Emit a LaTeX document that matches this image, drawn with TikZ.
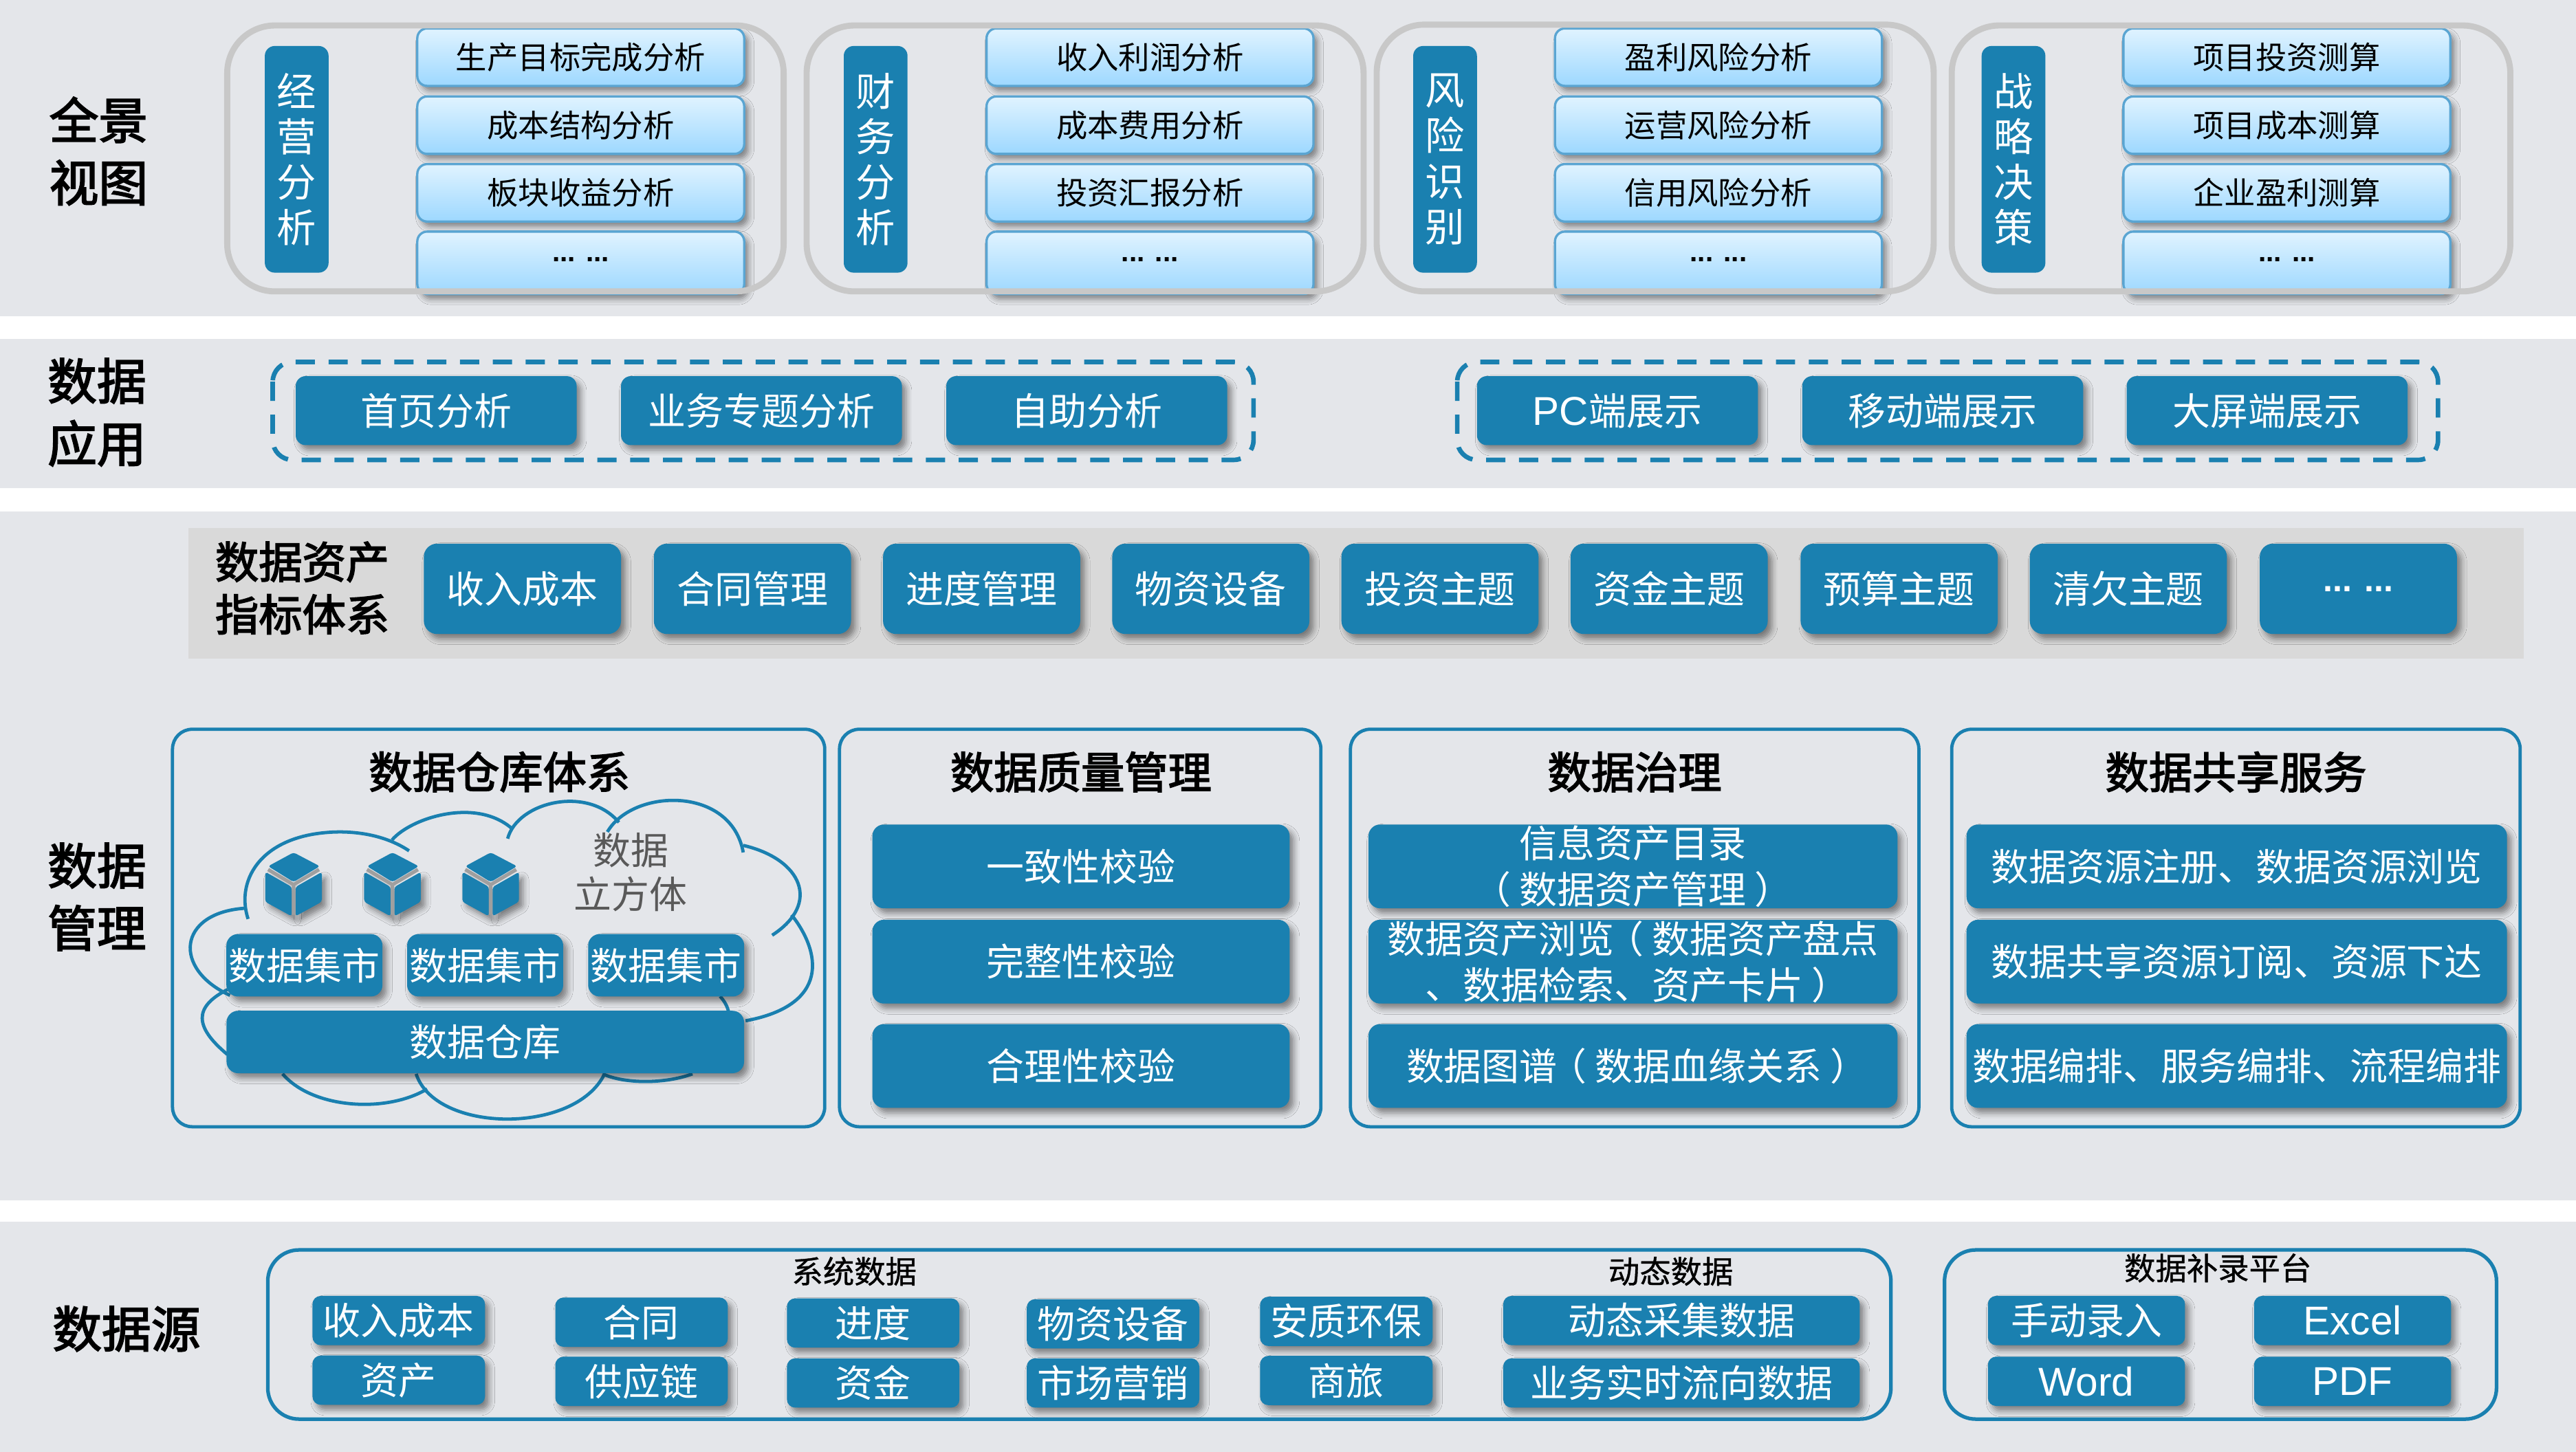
\documentclass[tikz,border=0pt]{standalone}
\usepackage{fontspec}
\setmainfont{Noto Sans CJK SC}
\newfontfamily\heavycjk[FakeBold=2.6]{Noto Sans CJK SC}
\newfontfamily\mediumcjk[FakeBold=0.8]{Noto Sans CJK SC}
\newfontfamily\latinfont{Liberation Sans}
\usetikzlibrary{shadows.blur}
\definecolor{bandgray}{HTML}{E4E6EA}
\definecolor{stripgray}{HTML}{D9D9D9}
\definecolor{ringgray}{HTML}{C8C8C8}
\definecolor{mainblue}{HTML}{1A80B0}
\definecolor{tiletop}{HTML}{E0F3FF}
\definecolor{tilebottom}{HTML}{9DD8FF}
\definecolor{tileedge}{HTML}{5AA5D2}
\newcommand{\fsize}[1]{\fontsize{#1}{#1}\selectfont}
\newcommand{\openp}{\kern-0.22em（\kern0.22em}
\newcommand{\closep}{\kern0.22em）\kern-0.22em}
\newcommand{\word}[1]{{\fsize{24.5}\latinfont #1}}
\newcommand{\dbcube}[1]{%
        \begin{scope}[xshift=#1pt]
        \fill[mainblue, rounded corners=1.5pt, softshadow] (-17.2,530.9) -- (-1.2,540) -- (-1.2,557.8) -- (-17.2,549) -- cycle;
        \fill[mainblue, rounded corners=1.5pt, softshadow] (17.2,530.9) -- (1.2,540) -- (1.2,557.8) -- (17.2,549) -- cycle;
        \fill[mainblue, rounded corners=1.5pt] (-17.2,530.9) -- (-1.2,540) -- (-1.2,557.8) -- (-17.2,549) -- cycle;
        \draw[line width=2.2pt, color=gray!75] (-15.5,529.4) -- (0,538.6) -- (0,557) (15.5,529.4) -- (0,538.6);
        \fill[mainblue, rounded corners=1.5pt] (0,519) -- (16,527.4) -- (0,537) -- (-15.5,527.4) -- cycle;
        \end{scope}}

\begin{document}
\begin{tikzpicture}[x=1pt, y=-1pt,
        softshadow/.style = {blur shadow={shadow xshift=2.5pt, shadow yshift=-3pt, shadow blur radius=3.5pt, shadow opacity=45}},
        bandlabel/.style = {font=\fontsize{30}{38}\selectfont\heavycjk, align=center, inner sep=0pt},
        ring/.style = {draw=ringgray, line width=3.7pt, rounded corners=29pt, fill=none},
        sidebox/.style = {fill=mainblue, text=white, rounded corners=6pt, minimum width=38.8pt, minimum height=138pt, inner sep=0pt, align=center, font=\fontsize{24}{27.7}\selectfont},
        tilebox/.style = {draw=tileedge, line width=1.4pt, top color=tiletop, bottom color=tilebottom, rounded corners=6pt, minimum width=199pt, minimum height=35pt, inner sep=0pt, font=\fsize{19}, softshadow},
        dotslabel/.style = {inner sep=0pt, font=\fsize{17}\latinfont\bfseries},
        dashframe/.style = {draw=mainblue, line width=2.8pt, dash pattern=on 11.7pt off 8.3pt, rounded corners=12pt},
        blueback/.style = {fill=mainblue, text=white, inner sep=0pt, font=\fontsize{23}{28}\selectfont, align=center, softshadow},
        homebtn/.style = {blueback, rounded corners=6pt, minimum width=171pt, minimum height=42pt},
        themebtn/.style = {blueback, rounded corners=8pt, minimum width=120pt, minimum height=55pt},
        blueframe/.style = {draw=mainblue, line width=2pt, rounded corners=12pt},
        paneltitle/.style = {inner sep=0pt, font=\fsize{26.5}\heavycjk},
        cloudline/.style = {draw=mainblue, line width=2pt},
        martbtn/.style = {blueback, rounded corners=7pt, minimum width=95pt, minimum height=38pt},
        qualitybtn/.style = {blueback, rounded corners=7pt, minimum width=254pt, minimum height=51pt},
        governbtn/.style = {blueback, rounded corners=7pt, minimum width=322pt, minimum height=51pt},
        sharebtn/.style = {blueback, rounded corners=7pt, minimum width=329pt, minimum height=51pt},
        srcbtn/.style = {blueback, rounded corners=5pt, minimum width=105pt, minimum height=30pt},
        srcframe/.style = {draw=mainblue, line width=2.2pt, rounded corners=19pt},
        srctitle/.style = {inner sep=0pt, font=\fsize{19}\mediumcjk}]

        \fill[white] (0,0) rectangle (1568,884);
        \useasboundingbox (0,0) rectangle (1568,884);
        \fill[bandgray] (0,0) rectangle (1568,192.5);
        \fill[bandgray] (0,206.5) rectangle (1568,297.2);
        \fill[bandgray] (0,311.4) rectangle (1568,730.9);
        \fill[bandgray] (0,743.8) rectangle (1568,884);

        \node[bandlabel, xshift=60pt, yshift=-92pt] (overview) {全景\\视图};
        \node[bandlabel, xshift=59pt, yshift=-251pt] (apps) {数据\\应用};
        \node[bandlabel, xshift=59pt, yshift=-546pt] (manage) {数据\\管理};
        \node[bandlabel, xshift=77pt, yshift=-809pt] (sources) {数据源};

        \node[sidebox, xshift=180.6pt, yshift=-97pt] (side1) {经\\营\\分\\析};
        \node[sidebox, xshift=533pt, yshift=-97pt] (side2) {财\\务\\分\\析};
        \node[sidebox, xshift=879.6pt, yshift=-97pt] (side3) {风\\险\\识\\别};
        \node[sidebox, xshift=1225.6pt, yshift=-97pt] (side4) {战\\略\\决\\策};

        \node[tilebox, xshift=353.5pt, yshift=-34.8pt] (a1) {生产目标完成分析};
        \node[tilebox, xshift=353.5pt, yshift=-76.2pt] (a2) {成本结构分析};
        \node[tilebox, xshift=353.5pt, yshift=-117.4pt] (a3) {板块收益分析};
        \node[tilebox, minimum height=38pt, xshift=353.5pt, yshift=-160pt] (a4box) {};
        \node[dotslabel, xshift=353.5pt, yshift=-158pt] (a4) {... ...};

        \node[tilebox, xshift=700pt, yshift=-34.8pt] (b1) {收入利润分析};
        \node[tilebox, xshift=700pt, yshift=-76.2pt] (b2) {成本费用分析};
        \node[tilebox, xshift=700pt, yshift=-117.4pt] (b3) {投资汇报分析};
        \node[tilebox, minimum height=38pt, xshift=700pt, yshift=-160pt] (b4box) {};
        \node[dotslabel, xshift=700pt, yshift=-158pt] (b4) {... ...};

        \node[tilebox, xshift=1046pt, yshift=-34.8pt] (c1) {盈利风险分析};
        \node[tilebox, xshift=1046pt, yshift=-76.2pt] (c2) {运营风险分析};
        \node[tilebox, xshift=1046pt, yshift=-117.4pt] (c3) {信用风险分析};
        \node[tilebox, minimum height=38pt, xshift=1046pt, yshift=-160pt] (c4box) {};
        \node[dotslabel, xshift=1046pt, yshift=-158pt] (c4) {... ...};

        \node[tilebox, xshift=1392pt, yshift=-34.8pt] (d1) {项目投资测算};
        \node[tilebox, xshift=1392pt, yshift=-76.2pt] (d2) {项目成本测算};
        \node[tilebox, xshift=1392pt, yshift=-117.4pt] (d3) {企业盈利测算};
        \node[tilebox, minimum height=38pt, xshift=1392pt, yshift=-160pt] (d4box) {};
        \node[dotslabel, xshift=1392pt, yshift=-158pt] (d4) {... ...};

        \draw[ring] (138.3,15.5) rectangle (477,177.4);
        \draw[ring] (491,15.5) rectangle (830,177.4);
        \draw[ring] (838,15) rectangle (1177,177.4);
        \draw[ring] (1188,15.5) rectangle (1528,177.4);

        \draw[dashframe] (166,220.4) rectangle (763,280);
        \draw[dashframe] (887,220.4) rectangle (1484,280);
        \node[homebtn, xshift=265.5pt, yshift=-250pt] (home) {首页分析};
        \node[homebtn, xshift=463.5pt, yshift=-250pt] (topic) {业务专题分析};
        \node[homebtn, xshift=661.5pt, yshift=-250pt] (self) {自助分析};
        \node[homebtn, xshift=984.5pt, yshift=-250pt] (pc) {\word{PC}端展示};
        \node[homebtn, xshift=1182.5pt, yshift=-250pt] (mobile) {移动端展示};
        \node[homebtn, xshift=1380pt, yshift=-250pt] (screen) {大屏端展示};

        \fill[stripgray] (114.7,321.5) rectangle (1536,401);
        \node[inner sep=0pt, align=center, font=\fontsize{26.5}{32}\selectfont\heavycjk, xshift=184pt, yshift=-358pt] (assets) {数据资产\\指标体系};
        \node[themebtn, xshift=318pt, yshift=-358.5pt] (t1) {收入成本};
        \node[themebtn, xshift=458pt, yshift=-358.5pt] (t2) {合同管理};
        \node[themebtn, xshift=597.5pt, yshift=-358.5pt] (t3) {进度管理};
        \node[themebtn, xshift=737pt, yshift=-358.5pt] (t4) {物资设备};
        \node[themebtn, xshift=876.5pt, yshift=-358.5pt] (t5) {投资主题};
        \node[themebtn, xshift=1016pt, yshift=-358.5pt] (t6) {资金主题};
        \node[themebtn, xshift=1156pt, yshift=-358.5pt] (t7) {预算主题};
        \node[themebtn, xshift=1295.5pt, yshift=-358.5pt] (t8) {清欠主题};
        \node[themebtn, font=\fsize{21}\latinfont\bfseries, xshift=1435.5pt, yshift=-358.5pt] (t9) {... ...};

        \draw[blueframe] (105,444) rectangle (502,686);
        \draw[blueframe] (511,444) rectangle (804,686);
        \draw[blueframe] (822,444) rectangle (1168,686);
        \draw[blueframe] (1188,444) rectangle (1534,686);
        \node[paneltitle, xshift=304pt, yshift=-470pt] (wh) {数据仓库体系};
        \node[paneltitle, xshift=658pt, yshift=-470pt] (qm) {数据质量管理};
        \node[paneltitle, xshift=995pt, yshift=-470pt] (gov) {数据治理};
        \node[paneltitle, xshift=1361pt, yshift=-470pt] (share) {数据共享服务};

        \draw[cloudline] (151,559.5) .. controls (143,535) and (160,507) .. (206.5,506.5) .. controls (222,506.5) and (237,510) .. (249,518);
        \draw[cloudline] (238.6,511.4) .. controls (250,498) and (290,485) .. (312,504.8);
        \draw[cloudline] (309,510.6) .. controls (315,488) and (358,478) .. (376.7,500.7);
        \draw[cloudline] (369.7,506.5) .. controls (385,480) and (445,478) .. (452.4,519);
        \draw[cloudline] (452.4,514.7) .. controls (488,523) and (500,550) .. (470,569.4);
        \draw[cloudline] (481.8,557) .. controls (500,580) and (505,612) .. (453.8,621.5);
        \draw[cloudline] (438.3,606.6) .. controls (440.5,609) and (442.5,612) .. (443.4,615.7);
        \draw[cloudline] (366.8,653.8) .. controls (380,660) and (405,660) .. (421.5,653.8);
        \draw[cloudline] (253.3,653.8) .. controls (265,690) and (350,691) .. (368,653.8);
        \draw[cloudline] (172,653.8) .. controls (190,675) and (235,678) .. (260,663);
        \draw[cloudline] (138.4,642) .. controls (118,625) and (118,613) .. (138.4,602.5);
        \draw[cloudline] (140,606) .. controls (105,590) and (108,556) .. (148.6,553);

        \dbcube{178.7}
        \dbcube{238.9}
        \dbcube{298.7}
        \node[inner sep=0pt, align=center, text=black!65, font=\fontsize{23}{27}\selectfont, xshift=384pt, yshift=-531pt] (cubes) {数据\\立方体};

        \node[martbtn, xshift=185.3pt, yshift=-587.7pt] (m1) {数据集市};
        \node[martbtn, xshift=295.3pt, yshift=-587.7pt] (m2) {数据集市};
        \node[martbtn, xshift=405.5pt, yshift=-587.7pt] (m3) {数据集市};
        \node[martbtn, minimum width=315pt, xshift=295.4pt, yshift=-634.4pt] (store) {数据仓库};

        \node[qualitybtn, xshift=658pt, yshift=-527.5pt] (q1) {一致性校验};
        \node[qualitybtn, xshift=658pt, yshift=-585.5pt] (q2) {完整性校验};
        \node[qualitybtn, xshift=658pt, yshift=-649pt] (q3) {合理性校验};

        \node[governbtn, xshift=994pt, yshift=-527.5pt] (g1) {信息资产目录\\\openp 数据资产管理\closep};
        \node[governbtn, xshift=994pt, yshift=-585.5pt] (g2) {数据资产浏览\openp 数据资产盘点\\、数据检索、资产卡片\closep};
        \node[governbtn, xshift=994pt, yshift=-649pt] (g3) {数据图谱\openp 数据血缘关系\closep};

        \node[sharebtn, xshift=1361.5pt, yshift=-527.5pt] (s1) {数据资源注册、数据资源浏览};
        \node[sharebtn, xshift=1361.5pt, yshift=-585.5pt] (s2) {数据共享资源订阅、资源下达};
        \node[sharebtn, xshift=1361.5pt, yshift=-649pt] (s3) {数据编排、服务编排、流程编排};

        \draw[srcframe] (163,761) rectangle (1151,864);
        \draw[srcframe] (1183.6,761) rectangle (1519.6,864);
        \node[srctitle, xshift=520pt, yshift=-774pt] (sysdata) {系统数据};
        \node[srctitle, xshift=1017pt, yshift=-774pt] (dyndata) {动态数据};
        \node[srctitle, xshift=1350pt, yshift=-772pt] (fillin) {数据补录平台};

        \node[srcbtn, xshift=242.7pt, yshift=-804pt] (r1) {收入成本};
        \node[srcbtn, xshift=242.7pt, yshift=-840.3pt] (r2) {资产};
        \node[srcbtn, xshift=390.5pt, yshift=-805pt] (r3) {合同};
        \node[srcbtn, xshift=390.5pt, yshift=-841pt] (r4) {供应链};
        \node[srcbtn, xshift=531.5pt, yshift=-805.5pt] (r5) {进度};
        \node[srcbtn, xshift=531.5pt, yshift=-842pt] (r6) {资金};
        \node[srcbtn, xshift=677.5pt, yshift=-806pt] (r7) {物资设备};
        \node[srcbtn, xshift=677.5pt, yshift=-842pt] (r8) {市场营销};
        \node[srcbtn, xshift=819.5pt, yshift=-804.5pt] (r9) {安质环保};
        \node[srcbtn, xshift=819.5pt, yshift=-840.5pt] (r10) {商旅};
        \node[srcbtn, minimum width=217pt, xshift=1023.5pt, yshift=-804pt] (r11) {动态采集数据};
        \node[srcbtn, minimum width=217pt, xshift=1023.5pt, yshift=-842pt] (r12) {业务实时流向数据};
        \node[srcbtn, minimum width=120pt, xshift=1270pt, yshift=-804pt] (r13) {手动录入};
        \node[srcbtn, minimum width=120pt, xshift=1270pt, yshift=-841pt] (r14) {\word{Word}};
        \node[srcbtn, minimum width=120pt, xshift=1432pt, yshift=-804pt] (r15) {\word{Excel}};
        \node[srcbtn, minimum width=120pt, xshift=1432pt, yshift=-841pt] (r16) {\word{PDF}};

\end{tikzpicture}
\end{document}
